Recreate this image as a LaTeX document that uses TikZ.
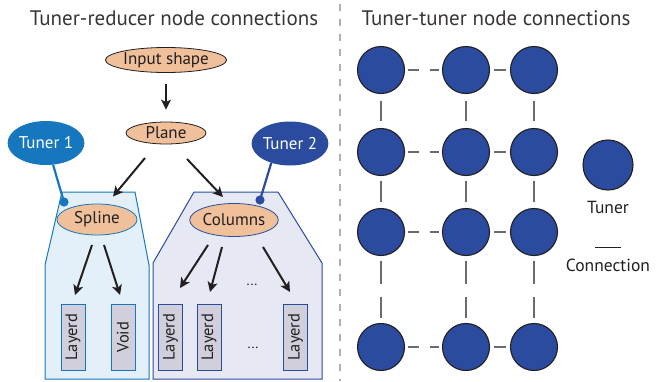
\documentclass[tikz,border=0pt]{standalone}
\usepackage{fontspec}
\setmainfont{PT Sans}
\usetikzlibrary{shapes.geometric,arrows.meta,calc}
\definecolor{peach}{HTML}{EFC09A}
\definecolor{tonec}{HTML}{1677BE}
\definecolor{ttwoc}{HTML}{2A4B9E}
\definecolor{boxl}{HTML}{E3F0FA}
\definecolor{boxr}{HTML}{E6E9F4}
\definecolor{rectc}{HTML}{D0CFDB}
\definecolor{ink}{HTML}{231F20}
\definecolor{conng}{HTML}{6B6B6B}
\definecolor{divg}{HTML}{B0B0B0}
\begin{document}
\begin{tikzpicture}[x=1pt,y=-1pt,
  ell/.style={ellipse,draw=ink,line width=0.8pt,fill=peach,inner sep=0pt,text=ink,font=\fontsize{17}{19}\selectfont},
  tun/.style={ellipse,inner sep=0pt,text=white,minimum width=66pt,minimum height=44pt,font=\fontsize{17}{19}\selectfont},
  arr/.style={draw=ink,line width=2pt,-{Stealth[length=10pt,width=10pt,inset=2.5pt]}},
  tline/.style={line width=2.2pt},
  layer/.style={rectangle,rotate=90,fill=rectc,line width=1pt,minimum width=66pt,minimum height=24pt,inner sep=0pt,text=ink,font=\fontsize{16.5}{18}\selectfont},
  title/.style={text=ink!90,font=\fontsize{21}{24}\selectfont},
  tnode/.style={circle,fill=ttwoc,draw=ink,line width=1.1pt,minimum size=47pt,inner sep=0pt},
  conn/.style={draw=conng,line width=1.4pt},
  lbl/.style={text=ink,font=\fontsize{17.5}{20}\selectfont}
]
\useasboundingbox (0,0) rectangle (662,381);
% divider
\coordinate (dtop) at (340,4);
\coordinate (dbot) at (340,381);
\draw[divg,line width=1.3pt,dash pattern=on 7pt off 8pt] (dtop) -- (dbot);
% titles
\node[title] (ttl1) at (174,18) {Tuner-reducer node connections};
\node[title] (ttl2) at (496,18) {Tuner-tuner node connections};
% boxes
\draw[tonec,fill=boxl,line width=1pt] (62,192) -- (135,192) -- (149,265) -- (149,379) -- (45,379) -- (45,265) -- cycle;
\draw[ttwoc,fill=boxr,line width=1pt] (194,192) -- (278,192) -- (322,263) -- (322,379) -- (153,379) -- (153,263) -- cycle;
% top nodes
\node[ell,minimum width=110pt,minimum height=25pt] (in) at (166,60) {Input shape};
\node[ell,minimum width=80pt,minimum height=22pt] (pl) at (166,133) {Plane};
\node[tun,fill=tonec] (t1) at (46,143) {Tuner 1};
\node[tun,fill=ttwoc] (t2) at (290,143.5) {Tuner 2};
\node[ell,draw=tonec,minimum width=80pt,minimum height=31pt] (sp) at (97,219.5) {Spline};
\node[ell,draw=ttwoc,minimum width=82pt,minimum height=33pt] (co) at (234,220) {Columns};
% tuner links
\coordinate (d1) at (64,202);
\coordinate (d2) at (260,200);
\draw[tonec,tline] (t1.288) -- (d1);
\fill[tonec] (d1) circle (4.6pt);
\draw[ttwoc,tline] (t2.226) -- (d2);
\fill[ttwoc] (d2) circle (4.6pt);
% layer boxes
\node[layer,draw=tonec] (l1) at (73,337) {Layerd};
\node[layer,draw=tonec] (vo) at (123,337) {Void};
\node[layer,draw=ttwoc] (r1) at (170.5,337) {Layerd};
\node[layer,draw=ttwoc] (r2) at (209,337) {Layerd};
\node[layer,draw=ttwoc] (r3) at (295.5,337) {Layerd};
\node[text=ink,font=\fontsize{14}{16}\selectfont] (dots1) at (252,285) {...};
\node[text=ink,font=\fontsize{14}{16}\selectfont] (dots2) at (253,348) {...};
% arrows
\draw[arr,shorten <=11pt,shorten >=12pt] (in.south) -- (pl.north);
\draw[arr] ($(pl)+(-21,25)$) -- ($(sp)+(16,-23)$);
\draw[arr] ($(pl)+(21,26)$) -- ($(co)+(-11,-23)$);
\draw[arr] ($(sp)+(-5,25.5)$) -- ($(l1)+(2,-42)$);
\draw[arr] ($(sp)+(7,25.5)$) -- ($(vo)+(-3,-42)$);
\draw[arr] ($(co)+(-26,25)$) -- ($(r1)+(9.5,-49)$);
\draw[arr] ($(co)+(-12,27)$) -- ($(r2)+(1,-45)$);
\draw[arr] ($(co)+(29,27)$) -- ($(r3)+(-5.5,-45)$);
% grid of tuners
\foreach \r/\y in {1/70,2/152,3/232,4/347}{
  \foreach \c/\x in {1/381,2/466,3/534}{
    \node[tnode] (c\r\c) at (\x,\y) {};
  }
}
\foreach \r in {1,2,3,4}{
  \draw[conn,dash pattern=on 11pt off 11pt,shorten <=2.5pt,shorten >=2.5pt] (c\r1) -- (c\r2);
  \draw[conn,shorten <=3.5pt,shorten >=3.5pt] (c\r2) -- (c\r3);
}
\foreach \c in {1,2,3}{
  \draw[conn,shorten <=6.5pt,shorten >=6.5pt] (c1\c) -- (c2\c);
  \draw[conn,shorten <=4.5pt,shorten >=5.5pt] (c2\c) -- (c3\c);
  \draw[conn,dash pattern=on 23pt off 13pt,shorten <=4.5pt,shorten >=4.5pt] (c3\c) -- (c4\c);
}
% legend
\node[tnode,minimum size=50pt] (leg) at (608,165) {};
\node[lbl] (legt) at (608,207) {Tuner};
\coordinate (la) at (595,247);
\coordinate (lb) at (621,247);
\draw[ink,line width=1pt] (la) -- (lb);
\node[lbl] (legc) at (608,265) {Connection};
\end{tikzpicture}
\end{document}
